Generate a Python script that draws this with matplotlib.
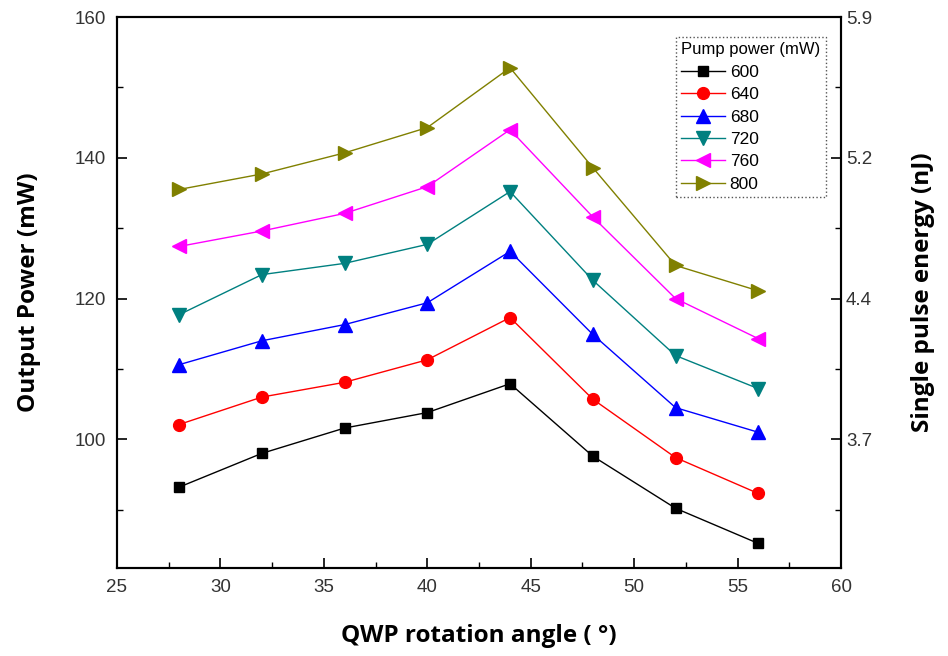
import matplotlib
matplotlib.use('Agg')
import matplotlib.pyplot as plt
from matplotlib.ticker import MultipleLocator, FixedLocator

# QWP angle (deg) vs output power (mW) for each pump power
angle = [28, 32, 36, 40, 44, 48, 52, 56]
pump = ['600', '640', '680', '720', '760', '800']
p600 = [93.2, 98.0, 101.6, 103.8, 107.9, 97.6, 90.2, 85.2]
p640 = [102.1, 106.0, 108.1, 111.3, 117.3, 105.7, 97.4, 92.3]
p680 = [110.6, 114.0, 116.3, 119.4, 126.7, 114.9, 104.5, 101.0]
p720 = [117.7, 123.4, 125.0, 127.7, 135.2, 122.6, 111.9, 107.2]
p760 = [127.4, 129.6, 132.1, 135.9, 144.0, 131.6, 120.0, 114.3]
p800 = [135.5, 137.7, 140.7, 144.3, 152.8, 138.6, 124.7, 121.1]
energy_ticks = [100, 120, 140, 160]
energy_labels = ['3.7', '4.4', '5.2', '5.9']

series = [p600, p640, p680, p720, p760, p800]
colors = ['black', 'red', 'blue', '#008080', 'magenta', '#808000']
markers = ['s', 'o', '^', 'v', '<', '>']
sizes = [7.5, 8.5, 10, 10, 10, 10]

plt.rcParams['font.family'] = ['Liberation Sans', 'DejaVu Sans']
label_font = dict(fontsize=17.5, fontweight='bold', family=['Open Sans', 'DejaVu Sans'])

fig = plt.figure(figsize=(9.48, 6.56), dpi=100)
ax = fig.add_axes([0.1234, 0.134, 0.7638, 0.840])

for vals, c, m, s, lab in zip(series, colors, markers, sizes, pump):
    ax.plot(angle, vals, color=c, marker=m, markersize=s, lw=1.0, label=lab)

ax.set_xlim(25, 60)
ax.set_ylim(81.7, 160)
ax.xaxis.set_major_locator(MultipleLocator(5))
ax.xaxis.set_minor_locator(MultipleLocator(2.5))
ax.yaxis.set_major_locator(MultipleLocator(20))
ax.yaxis.set_minor_locator(MultipleLocator(10))
ax.tick_params(which='both', direction='in', labelsize=13.5, labelcolor='#333333')
ax.tick_params(which='major', length=7, width=1.2)
ax.tick_params(which='minor', length=4, width=1.0)
ax.tick_params(axis='x', pad=8)
ax.tick_params(axis='y', pad=8)
for sp in ax.spines.values():
    sp.set_linewidth(1.5)

ax.set_xlabel('QWP rotation angle ( °)', labelpad=20, **label_font)
ax.set_ylabel('Output Power (mW)', labelpad=24, **label_font)

ax2 = ax.twinx()
ax2.set_ylim(ax.get_ylim())
ax2.yaxis.set_major_locator(FixedLocator(energy_ticks))
ax2.set_yticklabels(energy_labels)
ax2.yaxis.set_minor_locator(MultipleLocator(10))
ax2.tick_params(which='both', direction='in', labelsize=13.5, labelcolor='#333333')
ax2.tick_params(which='major', length=7, width=1.2)
ax2.tick_params(which='minor', length=4, width=1.0)
ax2.set_ylabel('Single pulse energy (nJ)', labelpad=28, **label_font)
for sp in ax2.spines.values():
    sp.set_linewidth(1.5)

leg = ax.legend(title='Pump power (mW)', loc='upper right',
                bbox_to_anchor=(0.9834, 0.97), fontsize=12.5,
                title_fontsize=12, fancybox=False, framealpha=1,
                edgecolor='#555555', handlelength=2.5, borderpad=0.3,
                labelspacing=0.42, handletextpad=0.3, borderaxespad=0.2,
                markerscale=1.0)
leg.get_frame().set_linewidth(1.0)
leg.get_frame().set_linestyle(':')
leg._legend_box.align = 'left'

fig.savefig('out.png', dpi=100)
